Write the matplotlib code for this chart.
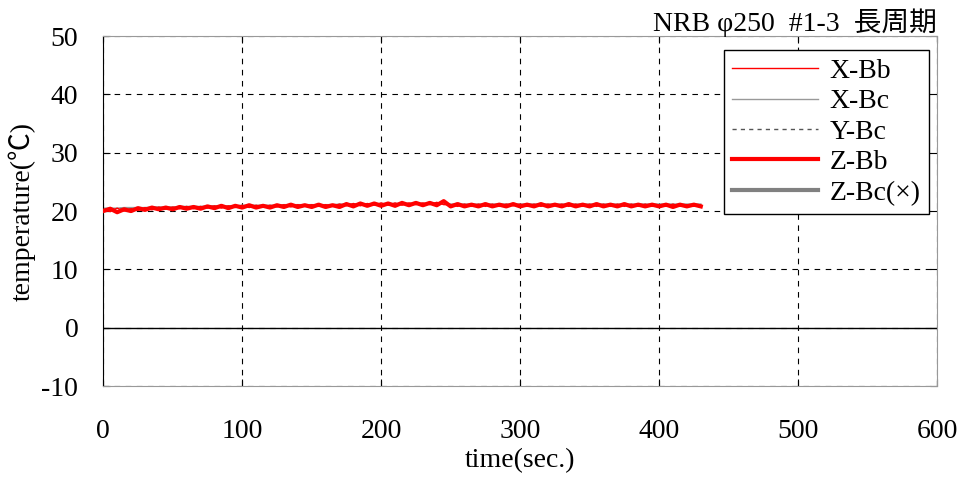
import numpy as np
import matplotlib.pyplot as plt

plt.rcParams.update({
    "font.family": ["Liberation Serif", "Noto Sans CJK JP", "DejaVu Sans"],
    "font.size": 20,
    "axes.unicode_minus": False,
    "xtick.direction": "in",
    "ytick.direction": "in",
})

# ---- data (time every 5 s, 0..430) ----
time = np.arange(0, 431, 5)

z_bb = [20.0, 20.4, 19.8, 20.3, 20.0, 20.5, 20.2, 20.6, 20.3, 20.6, 20.3, 20.7, 20.4, 20.7, 20.4,
        20.8, 20.5, 20.9, 20.5, 20.9, 20.6, 21.0, 20.6, 20.9, 20.6, 21.0, 20.7, 21.1, 20.7, 21.0,
        20.7, 21.1, 20.7, 21.0, 20.7, 21.2, 20.8, 21.3, 20.9, 21.3, 20.9, 21.3, 20.9, 21.4, 21.0,
        21.4, 21.0, 21.4, 21.0, 21.7, 20.8, 21.2, 20.8, 21.1, 20.8, 21.2, 20.8, 21.1, 20.8, 21.2,
        20.8, 21.1, 20.8, 21.2, 20.8, 21.1, 20.8, 21.2, 20.8, 21.1, 20.8, 21.2, 20.8, 21.1, 20.8,
        21.2, 20.8, 21.1, 20.8, 21.1, 20.8, 21.1, 20.7, 21.1, 20.8, 21.1, 20.8]
x_bb = [20.3, 19.9, 20.5, 20.0, 20.4, 20.1, 20.6, 20.2, 20.7, 20.3, 20.7, 20.4, 20.8, 20.4, 20.8,
        20.5, 20.9, 20.5, 20.9, 20.6, 21.0, 20.6, 21.0, 20.7, 21.0, 20.7, 21.1, 20.7, 21.1, 20.8,
        21.1, 20.8, 21.1, 20.8, 21.2, 20.9, 21.3, 20.9, 21.3, 21.0, 21.4, 21.0, 21.4, 21.0, 21.4,
        21.1, 21.4, 21.1, 21.5, 21.1, 21.1, 20.8, 21.2, 20.8, 21.2, 20.8, 21.2, 20.8, 21.2, 20.9,
        21.2, 20.8, 21.2, 20.8, 21.2, 20.9, 21.2, 20.8, 21.2, 20.8, 21.2, 20.8, 21.2, 20.8, 21.2,
        20.8, 21.2, 20.8, 21.2, 20.8, 21.1, 20.8, 21.2, 20.8, 21.1, 20.8, 21.1]
x_bc = [20.5, 20.5, 20.5, 20.6, 20.6, 20.6, 20.6, 20.7, 20.7, 20.7, 20.7, 20.8, 20.8, 20.8, 20.8,
        20.9, 20.9, 20.9, 20.9, 20.9, 21.0, 21.0, 21.0, 21.0, 21.0, 21.0, 21.1, 21.1, 21.1, 21.1,
        21.1, 21.1, 21.1, 21.1, 21.2, 21.2, 21.2, 21.2, 21.2, 21.3, 21.3, 21.3, 21.3, 21.3, 21.3,
        21.3, 21.3, 21.3, 21.4, 21.4, 21.2, 21.2, 21.2, 21.2, 21.2, 21.2, 21.2, 21.2, 21.2, 21.2,
        21.2, 21.2, 21.2, 21.2, 21.2, 21.2, 21.2, 21.2, 21.2, 21.2, 21.2, 21.2, 21.2, 21.2, 21.2,
        21.2, 21.2, 21.2, 21.2, 21.2, 21.2, 21.2, 21.2, 21.2, 21.2, 21.2, 21.2]
y_bc = [20.4, 20.4, 20.4, 20.5, 20.5, 20.5, 20.5, 20.6, 20.6, 20.6, 20.6, 20.7, 20.7, 20.7, 20.7,
        20.8, 20.8, 20.8, 20.8, 20.8, 20.9, 20.9, 20.9, 20.9, 20.9, 20.9, 21.0, 21.0, 21.0, 21.0,
        21.0, 21.0, 21.0, 21.0, 21.1, 21.1, 21.1, 21.1, 21.1, 21.2, 21.2, 21.2, 21.2, 21.2, 21.2,
        21.2, 21.2, 21.2, 21.3, 21.3, 21.1, 21.1, 21.1, 21.1, 21.1, 21.1, 21.1, 21.1, 21.1, 21.1,
        21.1, 21.1, 21.1, 21.1, 21.1, 21.1, 21.1, 21.1, 21.1, 21.1, 21.1, 21.1, 21.1, 21.1, 21.1,
        21.1, 21.1, 21.1, 21.1, 21.1, 21.1, 21.1, 21.1, 21.1, 21.1, 21.1, 21.1]

fig, ax = plt.subplots(figsize=(9.65, 4.88), dpi=100)
fig.subplots_adjust(left=0.107, right=0.971, top=0.926, bottom=0.209)

ax.plot(time, y_bc, color="#555555", lw=1.0, ls=(0, (3, 3)), label="Y-Bc", zorder=2)
ax.plot(time, x_bc, color="#999999", lw=1.0, label="X-Bc", zorder=2)
ax.plot(time, z_bb, color="#ff0000", lw=3.0, label="Z-Bb", zorder=3)
ax.plot(time, x_bb, color="#ff0000", lw=1.0, label="X-Bb", zorder=4)
ax.plot([], [], color="#808080", lw=3.0, label="Z-Bc(×)")

ax.axhline(0, color="black", lw=1.0, zorder=1)
ax.set_xlim(0, 600)
ax.set_ylim(-10, 50)
ax.set_xticks(np.arange(0, 601, 100))
ax.set_yticks(np.arange(-10, 51, 10))
ax.grid(True, color="black", ls=(0, (5, 5)), lw=0.8)
ax.tick_params(top=True, right=True, length=5, labelsize=20)
ax.tick_params(axis="x", pad=24)
ax.tick_params(axis="y", pad=18)
for s in ("top", "right", "bottom"):
    ax.spines[s].set_color("#999999")
ax.spines["left"].set_color("black")

ax.set_xlabel("time(sec.)", fontsize=20, labelpad=3)
ax.set_ylabel("temperature(℃)", fontsize=20, labelpad=4)
ax.set_title("NRB φ250  #1-3  長周期", loc="right", fontsize=20, pad=4)

h, l = ax.get_legend_handles_labels()
order = [l.index(n) for n in ["X-Bb", "X-Bc", "Y-Bc", "Z-Bb", "Z-Bc(×)"]]
ax.legend([h[i] for i in order], [l[i] for i in order], loc="upper right",
          bbox_to_anchor=(0.99, 0.96), fancybox=False, edgecolor="black",
          framealpha=1, fontsize=20, handlelength=3.1, labelspacing=0.18,
          borderpad=0.3, handletextpad=0.4, borderaxespad=0)

fig.savefig("out.png")
